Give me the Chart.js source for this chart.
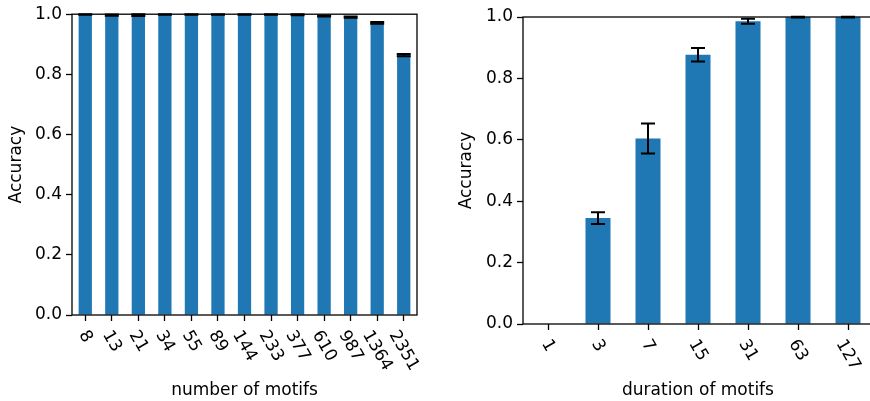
<!DOCTYPE html>
<html>
<head>
<meta charset="utf-8">
<script src="https://cdn.jsdelivr.net/npm/chart.js@4.4.1/dist/chart.umd.min.js"></script>
<style>
  html, body { margin: 0; padding: 0; background: #fff; overflow: hidden; }
  #wrap { position: relative; width: 870px; height: 401px; overflow: hidden; }
  canvas { position: absolute; top: 0; }
  #countChart { left: 0; }
  #durationChart { left: 435px; }
</style>
</head>
<body>
<div id="wrap">
  <canvas id="countChart" width="435" height="401"></canvas>
  <canvas id="durationChart" width="465" height="401"></canvas>
</div>
<script>
// left panel: accuracy vs number of motifs
const countLabels = ['8', '13', '21', '34', '55', '89', '144', '233', '377', '610', '987', '1364', '2351'];
const countAcc = [0.999, 0.997, 0.997, 0.999, 0.999, 0.999, 0.999, 0.999, 0.998, 0.994, 0.990, 0.971, 0.864];
const countErr = [0.001, 0.002, 0.003, 0.001, 0.001, 0.001, 0.001, 0.001, 0.0015, 0.002, 0.002, 0.003, 0.004];

// right panel: accuracy vs duration of motifs
const durationLabels = ['1', '3', '7', '15', '31', '63', '127'];
const durationAcc = [0, 0.345, 0.604, 0.877, 0.986, 0.9995, 0.9995];
const durationErr = [0, 0.019, 0.049, 0.022, 0.008, 0.001, 0.001];

const yTicks = [0, 0.2, 0.4, 0.6, 0.8, 1.0];

const BLUE = '#1f77b4';
const FONT = 'DejaVu Sans';

Chart.defaults.font.family = FONT;
Chart.defaults.font.size = 17;
Chart.defaults.color = '#000';

// frame round the plot area (drawn over the bars like matplotlib spines)
const frame = {
    id: 'frame',
    afterDatasetsDraw(chart) {
        const { ctx, chartArea: a } = chart;
        ctx.save();
        ctx.strokeStyle = '#000';
        ctx.lineWidth = 1.3;
        ctx.strokeRect(a.left, a.top, a.right - a.left, a.bottom - a.top);
        ctx.restore();
    }
};

// error bars from the value / error arrays
const errorBars = {
    id: 'errorBars',
    afterDatasetsDraw(chart, args, opts) {
        const { ctx } = chart;
        const xs = chart.scales.x, ys = chart.scales.y;
        const vals = chart.data.datasets[0].data;
        ctx.save();
        ctx.strokeStyle = '#000';
        ctx.lineWidth = 2;
        vals.forEach((v, i) => {
            const e = opts.err[i];
            if (!v && !e) return;
            const x = xs.getPixelForValue(i);
            const y1 = ys.getPixelForValue(v + e);
            const y2 = ys.getPixelForValue(v - e);
            ctx.beginPath();
            ctx.moveTo(x, y1); ctx.lineTo(x, y2);
            ctx.moveTo(x - opts.cap, y1); ctx.lineTo(x + opts.cap, y1);
            ctx.moveTo(x - opts.cap, y2); ctx.lineTo(x + opts.cap, y2);
            ctx.stroke();
        });
        ctx.restore();
    }
};

// x tick labels turned clockwise, centred under each tick
const rotatedTicks = {
    id: 'rotatedTicks',
    afterDraw(chart, args, opts) {
        const { ctx } = chart;
        const xs = chart.scales.x;
        const top = chart.chartArea.bottom + opts.offset;
        const ang = opts.angle * Math.PI / 180;
        const size = 17;
        ctx.save();
        ctx.font = size + 'px "' + FONT + '"';
        ctx.fillStyle = '#000';
        ctx.textAlign = 'center';
        ctx.textBaseline = 'middle';
        chart.data.labels.forEach((lab, i) => {
            const w = ctx.measureText(lab).width;
            const h = size * 1.17;
            const H = w * Math.sin(ang) + h * Math.cos(ang);
            ctx.save();
            ctx.translate(xs.getPixelForTick(i), top + H / 2);
            ctx.rotate(ang);
            ctx.fillText(lab, 0, 0);
            ctx.restore();
        });
        ctx.restore();
    }
};

function makeChart(id, labels, values, errs, xTitle, box) {
    return new Chart(document.getElementById(id), {
        type: 'bar',
        data: {
            labels: labels,
            datasets: [{
                data: values,
                backgroundColor: BLUE,
                borderWidth: 0,
                barPercentage: 0.5,
                categoryPercentage: 1.0
            }]
        },
        options: {
            responsive: false,
            animation: false,
            devicePixelRatio: 1,
            layout: { padding: { left: 0, right: box.padRight, top: box.padTop, bottom: 0 } },
            scales: {
                x: {
                    afterFit: (s) => { s.height = box.xHeight; },
                    ticks: { display: false },
                    grid: {
                        offset: false,
                        drawOnChartArea: false,
                        drawTicks: true,
                        tickLength: 6,
                        tickColor: '#000',
                        tickWidth: 1.3
                    },
                    border: { display: false },
                    title: {
                        display: true,
                        text: xTitle,
                        font: { size: 17 },
                        padding: { top: 0, bottom: 0 }
                    }
                },
                y: {
                    min: 0,
                    max: 1,
                    afterFit: (s) => { s.width = box.yWidth; },
                    afterBuildTicks: (s) => { s.ticks = yTicks.map(v => ({ value: v })); },
                    ticks: {
                        padding: 4,
                        callback: (v) => Number(v).toFixed(1)
                    },
                    grid: {
                        drawOnChartArea: false,
                        drawTicks: true,
                        tickLength: 6,
                        tickColor: '#000',
                        tickWidth: 1.3
                    },
                    border: { display: false },
                    title: {
                        display: true,
                        text: 'Accuracy',
                        font: { size: 17 },
                        padding: { top: box.yTitlePad, bottom: 0 }
                    }
                }
            },
            plugins: {
                legend: { display: false },
                tooltip: { enabled: false },
                errorBars: { err: errs, cap: 7 },
                rotatedTicks: { offset: 12, angle: 60 }
            }
        },
        plugins: [errorBars, frame, rotatedTicks]
    });
}

makeChart('countChart', countLabels, countAcc, countErr, 'number of motifs',
    { padRight: 18, padTop: 13, xHeight: 86, yWidth: 72, yTitlePad: 6 });

makeChart('durationChart', durationLabels, durationAcc, durationErr, 'duration of motifs',
    { padRight: 27, padTop: 17, xHeight: 77, yWidth: 88, yTitlePad: 21 });
</script>
</body>
</html>
